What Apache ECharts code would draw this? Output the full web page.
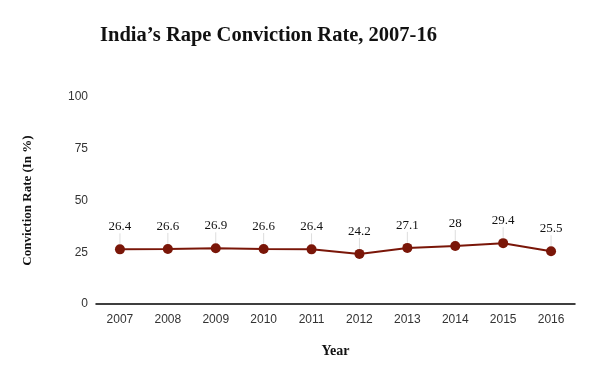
<!DOCTYPE html>
<html><head><meta charset="utf-8">
<script src="https://cdn.jsdelivr.net/npm/echarts@6/dist/echarts.min.js"></script>
<style>html,body{margin:0;padding:0;background:#fff}#c{width:600px;height:371px}</style>
</head><body><div id="c"></div>
<script>
const years = ['2007','2008','2009','2010','2011','2012','2013','2014','2015','2016'];
const convictionRate = [26.4, 26.6, 26.9, 26.6, 26.4, 24.2, 27.1, 28, 29.4, 25.5];
const yTicks = [0, 25, 50, 75, 100];

const chart = echarts.init(document.getElementById('c'));
chart.setOption({
  animation: false,
  title: {
    text: 'India\u2019s Rape Conviction Rate, 2007-16',
    left: 95, top: 20,
    textStyle: {fontFamily: 'Liberation Serif', fontSize: 20.5, fontWeight: 'bold', color: '#111'}
  },
  grid: {left: 96, right: 25, top: 97, bottom: 67},
  xAxis: {
    type: 'category', data: years,
    name: 'Year', nameLocation: 'middle', nameGap: 40,
    nameTextStyle: {fontFamily: 'Liberation Serif', fontSize: 14, fontWeight: 'bold', color: '#111'},
    axisLine: {lineStyle: {color: '#000', width: 1.5}},
    axisTick: {show: false},
    axisLabel: {fontFamily: 'Liberation Sans', fontSize: 12, color: '#333', margin: 10}
  },
  yAxis: {
    type: 'value', min: yTicks[0], max: yTicks[yTicks.length - 1], interval: 25,
    name: 'Conviction Rate (In %)', nameLocation: 'middle', nameGap: 62,
    nameTextStyle: {fontFamily: 'Liberation Serif', fontSize: 13, fontWeight: 'bold', color: '#111'},
    axisLine: {show: false}, axisTick: {show: false}, splitLine: {show: false},
    axisLabel: {fontFamily: 'Liberation Sans', fontSize: 12, color: '#333', margin: 8}
  },
  series: [{
    type: 'line', data: convictionRate,
    symbol: 'circle', symbolSize: 10,
    itemStyle: {color: '#7a1608'},
    lineStyle: {color: '#7a1608', width: 2},
    label: {show: true, position: 'top', distance: 6,
      fontFamily: 'Liberation Serif', fontSize: 13, color: '#111'},
    labelLayout: {dy: -5},
    labelLine: {show: true, lineStyle: {color: '#ddd', width: 1}}
  }]
});
</script></body></html>
